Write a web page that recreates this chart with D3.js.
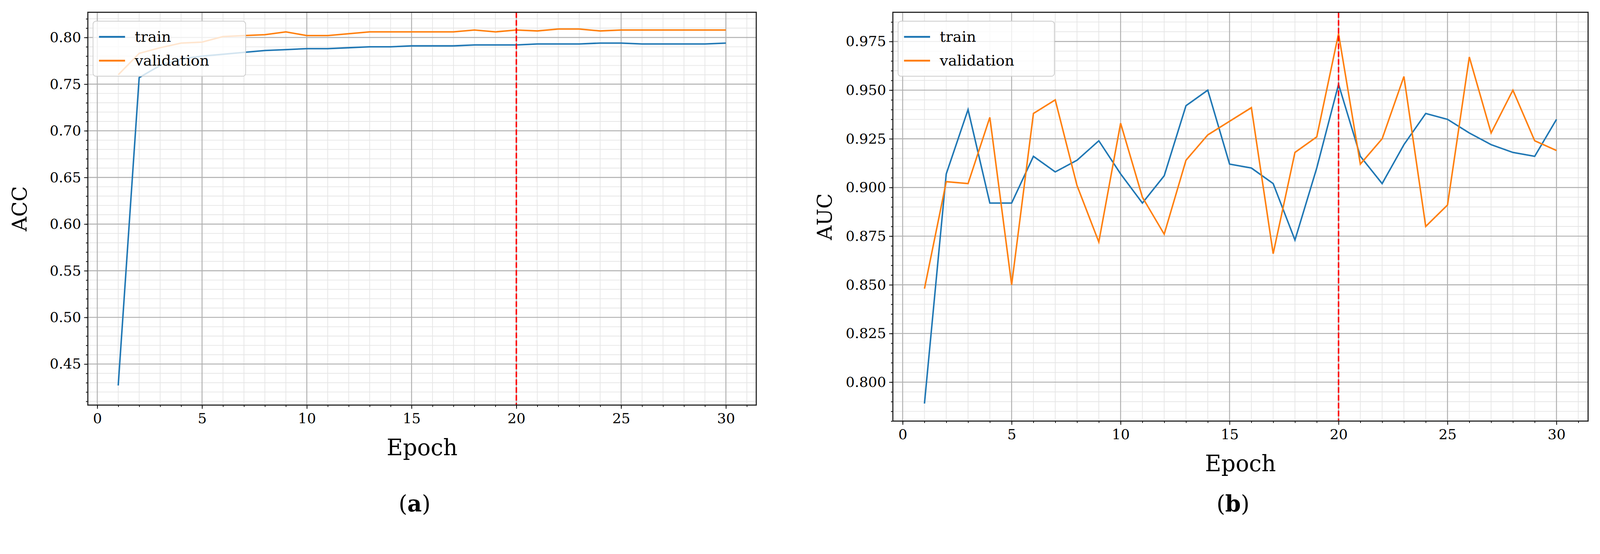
<!DOCTYPE html>
<html><head><meta charset="utf-8">
<script src="https://cdn.jsdelivr.net/npm/d3@7/dist/d3.min.js"></script>
<style>html,body{margin:0;background:#fff;overflow:hidden}svg{display:block;width:100vw;height:100vh}text{font-family:"DejaVu Serif",serif}</style>
</head><body>
<svg id="c" viewBox="0 0 4299 1419" preserveAspectRatio="xMinYMin meet"></svg>
<script>
var epochs = d3.range(1, 31);
var accTrain = [0.427,0.757,0.770,0.777,0.780,0.782,0.784,0.786,0.787,0.788,0.788,0.789,0.790,0.790,0.791,0.791,0.791,0.792,0.792,0.792,0.793,0.793,0.793,0.794,0.794,0.793,0.793,0.793,0.793,0.794];
var accVal = [0.760,0.783,0.789,0.794,0.795,0.801,0.802,0.803,0.806,0.802,0.802,0.804,0.806,0.806,0.806,0.806,0.806,0.808,0.806,0.808,0.807,0.809,0.809,0.807,0.808,0.808,0.808,0.808,0.808,0.808];
var aucTrain = [0.789,0.907,0.940,0.892,0.892,0.916,0.908,0.914,0.924,0.907,0.892,0.906,0.942,0.950,0.912,0.910,0.902,0.873,0.910,0.953,0.916,0.902,0.922,0.938,0.935,0.928,0.922,0.918,0.916,0.935];
var aucVal = [0.848,0.903,0.902,0.936,0.850,0.938,0.945,0.901,0.872,0.933,0.895,0.876,0.914,0.927,0.934,0.941,0.866,0.918,0.926,0.979,0.912,0.925,0.957,0.880,0.891,0.967,0.928,0.950,0.924,0.919];
var xTicks = [0,5,10,15,20,25,30];
var accTicks = [0.45,0.50,0.55,0.60,0.65,0.70,0.75,0.80];
var aucTicks = [0.800,0.825,0.850,0.875,0.900,0.925,0.950,0.975];

var svg = d3.select("#c");

function panel(o){
  var g = svg.append("g");
  var x = d3.scaleLinear().domain([-0.45, 31.45]).range([o.x0, o.x1]);
  var y = d3.scaleLinear().domain(o.yd).range([o.y1, o.y0]);
  // minor grid
  var xm = d3.range(0, 32, 1), ym = d3.range(Math.ceil(o.yd[0]/o.ym)*o.ym, o.yd[1], o.ym);
  g.selectAll(".xm").data(xm).join("line").attr("x1", x).attr("x2", x).attr("y1", o.y0).attr("y2", o.y1)
    .attr("stroke", "#e6e6e6").attr("stroke-width", 2);
  g.selectAll(".ym").data(ym).join("line").attr("y1", y).attr("y2", y).attr("x1", o.x0).attr("x2", o.x1)
    .attr("stroke", "#e6e6e6").attr("stroke-width", 2);
  g.selectAll(".xg").data(xTicks).join("line").attr("x1", x).attr("x2", x).attr("y1", o.y0).attr("y2", o.y1)
    .attr("stroke", "#b0b0b0").attr("stroke-width", 2.5);
  g.selectAll(".yg").data(o.ticks).join("line").attr("y1", y).attr("y2", y).attr("x1", o.x0).attr("x2", o.x1)
    .attr("stroke", "#b0b0b0").attr("stroke-width", 2.5);
  var line = d3.line().x(function(d, i){ return x(epochs[i]); }).y(function(d){ return y(d); });
  g.append("path").attr("d", line(o.tr)).attr("fill", "none").attr("stroke", "#1f77b4").attr("stroke-width", 4);
  g.append("path").attr("d", line(o.va)).attr("fill", "none").attr("stroke", "#ff7f0e").attr("stroke-width", 4);
  g.append("line").attr("x1", x(20)).attr("x2", x(20)).attr("y1", o.y0).attr("y2", o.y1)
    .attr("stroke", "#ff0000").attr("stroke-width", 4).attr("stroke-dasharray", "15,6");
  // axes
  var ax = g.append("g").attr("transform", "translate(0," + o.y1 + ")")
    .call(d3.axisBottom(x).tickValues(xTicks).tickSize(10).tickPadding(12));
  ax.selectAll("text").attr("font-size", 38).attr("font-family", "DejaVu Serif");
  g.append("g").attr("transform", "translate(0," + o.y1 + ")")
    .call(d3.axisBottom(x).tickValues(xm).tickSize(5).tickFormat(""));
  var ay = g.append("g").attr("transform", "translate(" + o.x0 + ",0)")
    .call(d3.axisLeft(y).tickValues(o.ticks).tickSize(10).tickPadding(8).tickFormat(d3.format(o.fmt)));
  ay.selectAll("text").attr("font-size", 38).attr("font-family", "DejaVu Serif");
  g.append("g").attr("transform", "translate(" + o.x0 + ",0)")
    .call(d3.axisLeft(y).tickValues(ym).tickSize(5).tickFormat(""));
  g.selectAll(".domain").attr("stroke", "none");
  g.selectAll(".tick line").attr("stroke", "#000").attr("stroke-width", 2);
  g.append("rect").attr("x", o.x0).attr("y", o.y0).attr("width", o.x1 - o.x0).attr("height", o.y1 - o.y0)
    .attr("fill", "none").attr("stroke", "#222").attr("stroke-width", 3);
  // legend
  var lx = o.x0 + 14, ly = o.y0 + 24;
  g.append("rect").attr("x", lx).attr("y", ly).attr("width", o.lw).attr("height", 148).attr("rx", 8)
    .attr("fill", "#fff").attr("fill-opacity", 0.8).attr("stroke", "#ccc").attr("stroke-width", 2);
  [["train", "#1f77b4"], ["validation", "#ff7f0e"]].forEach(function(d, i){
    var yy = ly + 42 + i * 64;
    g.append("line").attr("x1", lx + 16).attr("x2", lx + 86).attr("y1", yy).attr("y2", yy)
      .attr("stroke", d[1]).attr("stroke-width", 5);
    g.append("text").attr("x", lx + 112).attr("y", yy + 13).attr("font-size", 40).text(d[0]);
  });
  svg.append("text").attr("x", (o.x0 + o.x1) / 2).attr("y", o.y1 + 135).attr("text-anchor", "middle")
    .attr("font-size", 60).text("Epoch");
  svg.append("text").attr("transform", "translate(" + (o.x0 - 165) + "," + ((o.y0 + o.y1) / 2) + ") rotate(-90)")
    .attr("text-anchor", "middle").attr("font-size", 54).text(o.yl);
  var lab = svg.append("text").attr("x", (o.x0 + o.x1) / 2 - 20).attr("y", 1375).attr("text-anchor", "middle")
    .attr("font-size", 60);
  lab.append("tspan").text("(");
  lab.append("tspan").attr("font-weight", "bold").text(o.cap);
  lab.append("tspan").text(")");
}

panel({x0: 236, x1: 2032, y0: 33, y1: 1089, yd: [0.406, 0.827], ym: 0.01, ticks: accTicks, fmt: ".2f",
  tr: accTrain, va: accVal, yl: "ACC", cap: "a", lw: 410});
panel({x0: 2399, x1: 4267, y0: 33, y1: 1132, yd: [0.780, 0.990], ym: 0.005, ticks: aucTicks, fmt: ".3f",
  tr: aucTrain, va: aucVal, yl: "AUC", cap: "b", lw: 420});
</script>
</body></html>
